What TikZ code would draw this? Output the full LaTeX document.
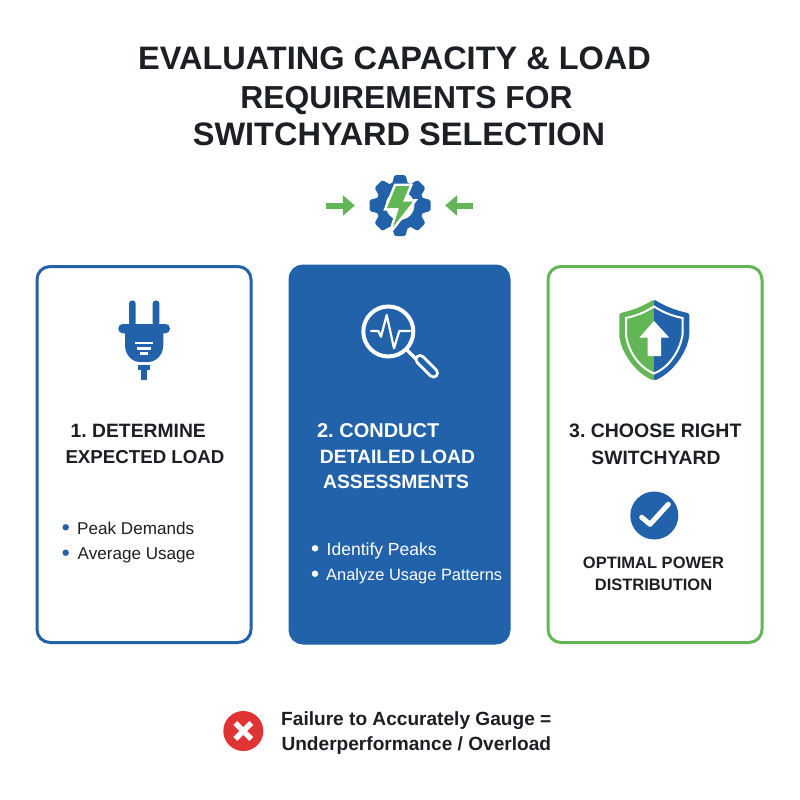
\documentclass[tikz,border=0pt]{standalone}
\usepackage{fontspec}
\setmainfont{Liberation Sans}
\usetikzlibrary{arrows.meta}
\definecolor{cardblue}{HTML}{2262AB}
\definecolor{cardgreen}{HTML}{62B655}
\definecolor{crossred}{HTML}{E03434}
\definecolor{inkdark}{HTML}{1C1F24}
\newcommand{\fs}[1]{\fontsize{#1}{#1}\selectfont}
\begin{document}
\frenchspacing
\begin{tikzpicture}[x=1pt, y=-1pt,
	main/.style = {inner sep=0pt, text=inkdark, anchor=base},
	headline/.style = {main, font=\fs{32.5}\bfseries},
	cardhead/.style = {main, font=\fs{19.3}\bfseries},
	cardheadw/.style = {cardhead, text=white},
	bullettext/.style = {main, anchor=base west, font=\fs{17.1}},
	bullettextw/.style = {bullettext, text=white},
	dot/.style = {circle, inner sep=0pt, minimum size=6.5pt},
	card/.style = {draw, rounded corners=13pt, line width=3pt, minimum height=376pt, fill=white},
	incoming/.style = {cardgreen, line width=6pt, -{Triangle[length=12pt, width=20pt]}}]
	\useasboundingbox (0,0) rectangle (800,800);
	\fill[white] (0,0) rectangle (800,800);
	% title
	\node[headline] (title1) at (394.5,70) {EVALUATING CAPACITY \& LOAD};
	\node[headline, font=\fs{31.8}\bfseries] (title2) at (406.5,108.3) {REQUIREMENTS FOR};
	\node[headline] (title3) at (399,145.7) {SWITCHYARD SELECTION};
	% gear with the two arrows
	\node[circle, minimum size=90pt, inner sep=0pt] (gear) at (400,205.5) {};
	\coordinate (arrowl) at (326,205.5);
	\coordinate (arrowr) at (473,205.5);
	\draw[incoming] (arrowl) -- (gear);
	\draw[incoming] (arrowr) -- (gear);
	\foreach \a in {0,45,...,315}
		\fill[cardblue, rotate around={\a:(gear.center)}, rounded corners=1.5pt] (391.5,186) -- (394.5,175) -- (405.5,175) -- (408.5,186) -- cycle;
	\draw[cardblue, line width=9.5pt] (gear.center) circle (19.2pt);
	\draw[white, line join=miter, line width=5pt, fill=white] (396,186) -- (409.5,186) -- (403,201.5) -- (413,201.5) -- (393,227) -- (399,208) -- (387,208) -- cycle;
	\fill[cardgreen] (396,186) -- (409.5,186) -- (403,201.5) -- (413,201.5) -- (393,227) -- (399,208) -- (387,208) -- cycle;
	% cards
	\node[card, draw=cardblue, minimum width=214pt] (card1) at (144,454.5) {};
	\node[card, draw=cardblue, fill=cardblue, minimum width=219pt, minimum height=377pt] (card2) at (399.5,454.5) {};
	\node[card, draw=cardgreen, minimum width=214pt] (card3) at (655,454.5) {};
	% plug
	\fill[cardblue, rounded corners=3pt] (129,300.5) rectangle (135.7,326);
	\fill[cardblue, rounded corners=3pt] (152.7,300.5) rectangle (159.4,326);
	\fill[cardblue, rounded corners=4.5pt] (118.3,324) rectangle (170,333.3);
	\fill[cardblue] (125,333) -- (163.3,333) -- (163.3,345) .. controls (163.3,356) and (155,362) .. (148,362) -- (140,362) .. controls (133,362) and (125,356) .. (125,345) -- cycle;
	\draw[white, line width=2.2pt] (135,343) -- (153.3,343);
	\draw[white, line width=2.2pt] (137.3,348.5) -- (151,348.5);
	\draw[white, line width=2.2pt] (140,353.5) -- (148.3,353.5);
	\fill[cardblue] (137.7,365) rectangle (150,370);
	\fill[cardblue] (140.7,369) rectangle (146.7,380);
	% magnifier
	\draw[white, line width=4pt] (388.3,331.5) circle (25pt);
	\draw[white, line width=3.5pt] (407,350) -- (417,360);
	\draw[white, line width=11pt, line cap=round] (420,359.5) -- (433.5,373);
	\draw[cardblue, line width=5pt, line cap=round] (420,359.5) -- (433.5,373);
	\draw[white, line width=2.2pt, line join=round, line cap=round] (371,331) -- (378.3,331) -- (381,336.7) -- (386.7,315) -- (394,348.3) -- (399.3,331) -- (410,331);
	% shield
	\fill[cardgreen, rounded corners=1.5pt] (654,299.3) .. controls (642,307) and (630,311) .. (619.3,313.3) -- (619.3,335) .. controls (621,352) and (635,373) .. (654,380.7) -- cycle;
	\fill[cardblue, rounded corners=1.5pt] (654,299.3) .. controls (666,307) and (678,311) .. (689.3,313.3) -- (689.3,335) .. controls (687,352) and (673,373) .. (654,380.7) -- cycle;
	\draw[white, line width=2pt] (654,306.5) .. controls (644,313) and (635,316) .. (626,318) -- (626,335) .. controls (628,350) and (638,367) .. (654,373.5) .. controls (670,367) and (680,350) .. (682.5,335) -- (682.5,318) .. controls (673,316) and (664,313) .. (654,306.5) -- cycle;
	\fill[white] (654,321) -- (669.3,337.7) -- (661,337.7) -- (661,356) -- (647.7,356) -- (647.7,337.7) -- (639.3,337.7) -- cycle;
	% card 1 text
	\node[cardhead] (head1a) at (138.3,437.7) {1. DETERMINE};
	\node[cardhead, font=\fs{18.7}\bfseries] (head1b) at (145,463.3) {EXPECTED LOAD};
	\node[dot, fill=cardblue] (dot1a) at (65.7,527.3) {};
	\node[bullettext] (item1a) at (77,534) {Peak Demands};
	\node[dot, fill=cardblue] (dot1b) at (65.7,552.7) {};
	\node[bullettext] (item1b) at (77.5,559.3) {Average Usage};
	% card 2 text
	\node[cardheadw, font=\fs{20}\bfseries] (head2a) at (378.2,437) {2. CONDUCT};
	\node[cardheadw] (head2b) at (397.5,463.3) {DETAILED LOAD};
	\node[cardheadw] (head2c) at (396,488.3) {ASSESSMENTS};
	\node[dot, fill=white] (dot2a) at (315,548.3) {};
	\node[bullettextw, font=\fs{17.5}] (item2a) at (326.5,555) {Identify Peaks};
	\node[dot, fill=white] (dot2b) at (315,573.7) {};
	\node[bullettextw, font=\fs{16.4}] (item2b) at (326,580) {Analyze Usage Patterns};
	% card 3 text
	\node[cardhead, font=\fs{19.5}\bfseries] (head3a) at (655.3,437.7) {3. CHOOSE RIGHT};
	\node[cardhead] (head3b) at (656,464.3) {SWITCHYARD};
	\node[circle, fill=cardblue, minimum size=48pt, inner sep=0pt] (okdisc) at (654.3,515.5) {};
	\draw[white, line width=5pt, line cap=round, line join=round] (641.7,517.3) -- (650,524.3) -- (668.3,504.3);
	\node[main, font=\fs{16.5}\bfseries] (result1) at (653.5,568.3) {OPTIMAL POWER};
	\node[main, font=\fs{16.5}\bfseries] (result2) at (653.5,590.7) {DISTRIBUTION};
	% warning
	\node[circle, fill=crossred, minimum size=40pt, inner sep=0pt] (nodisc) at (243.3,731) {};
	\draw[white, line width=5.5pt] (235.3,723) -- (251.3,739);
	\draw[white, line width=5.5pt] (235.3,739) -- (251.3,723);
	\node[main, font=\fs{19.1}\bfseries] (warn1) at (416.3,725.7) {Failure to Accurately Gauge =};
	\node[main, font=\fs{19.1}\bfseries] (warn2) at (416.3,750) {Underperformance / Overload};
\end{tikzpicture}
\end{document}
